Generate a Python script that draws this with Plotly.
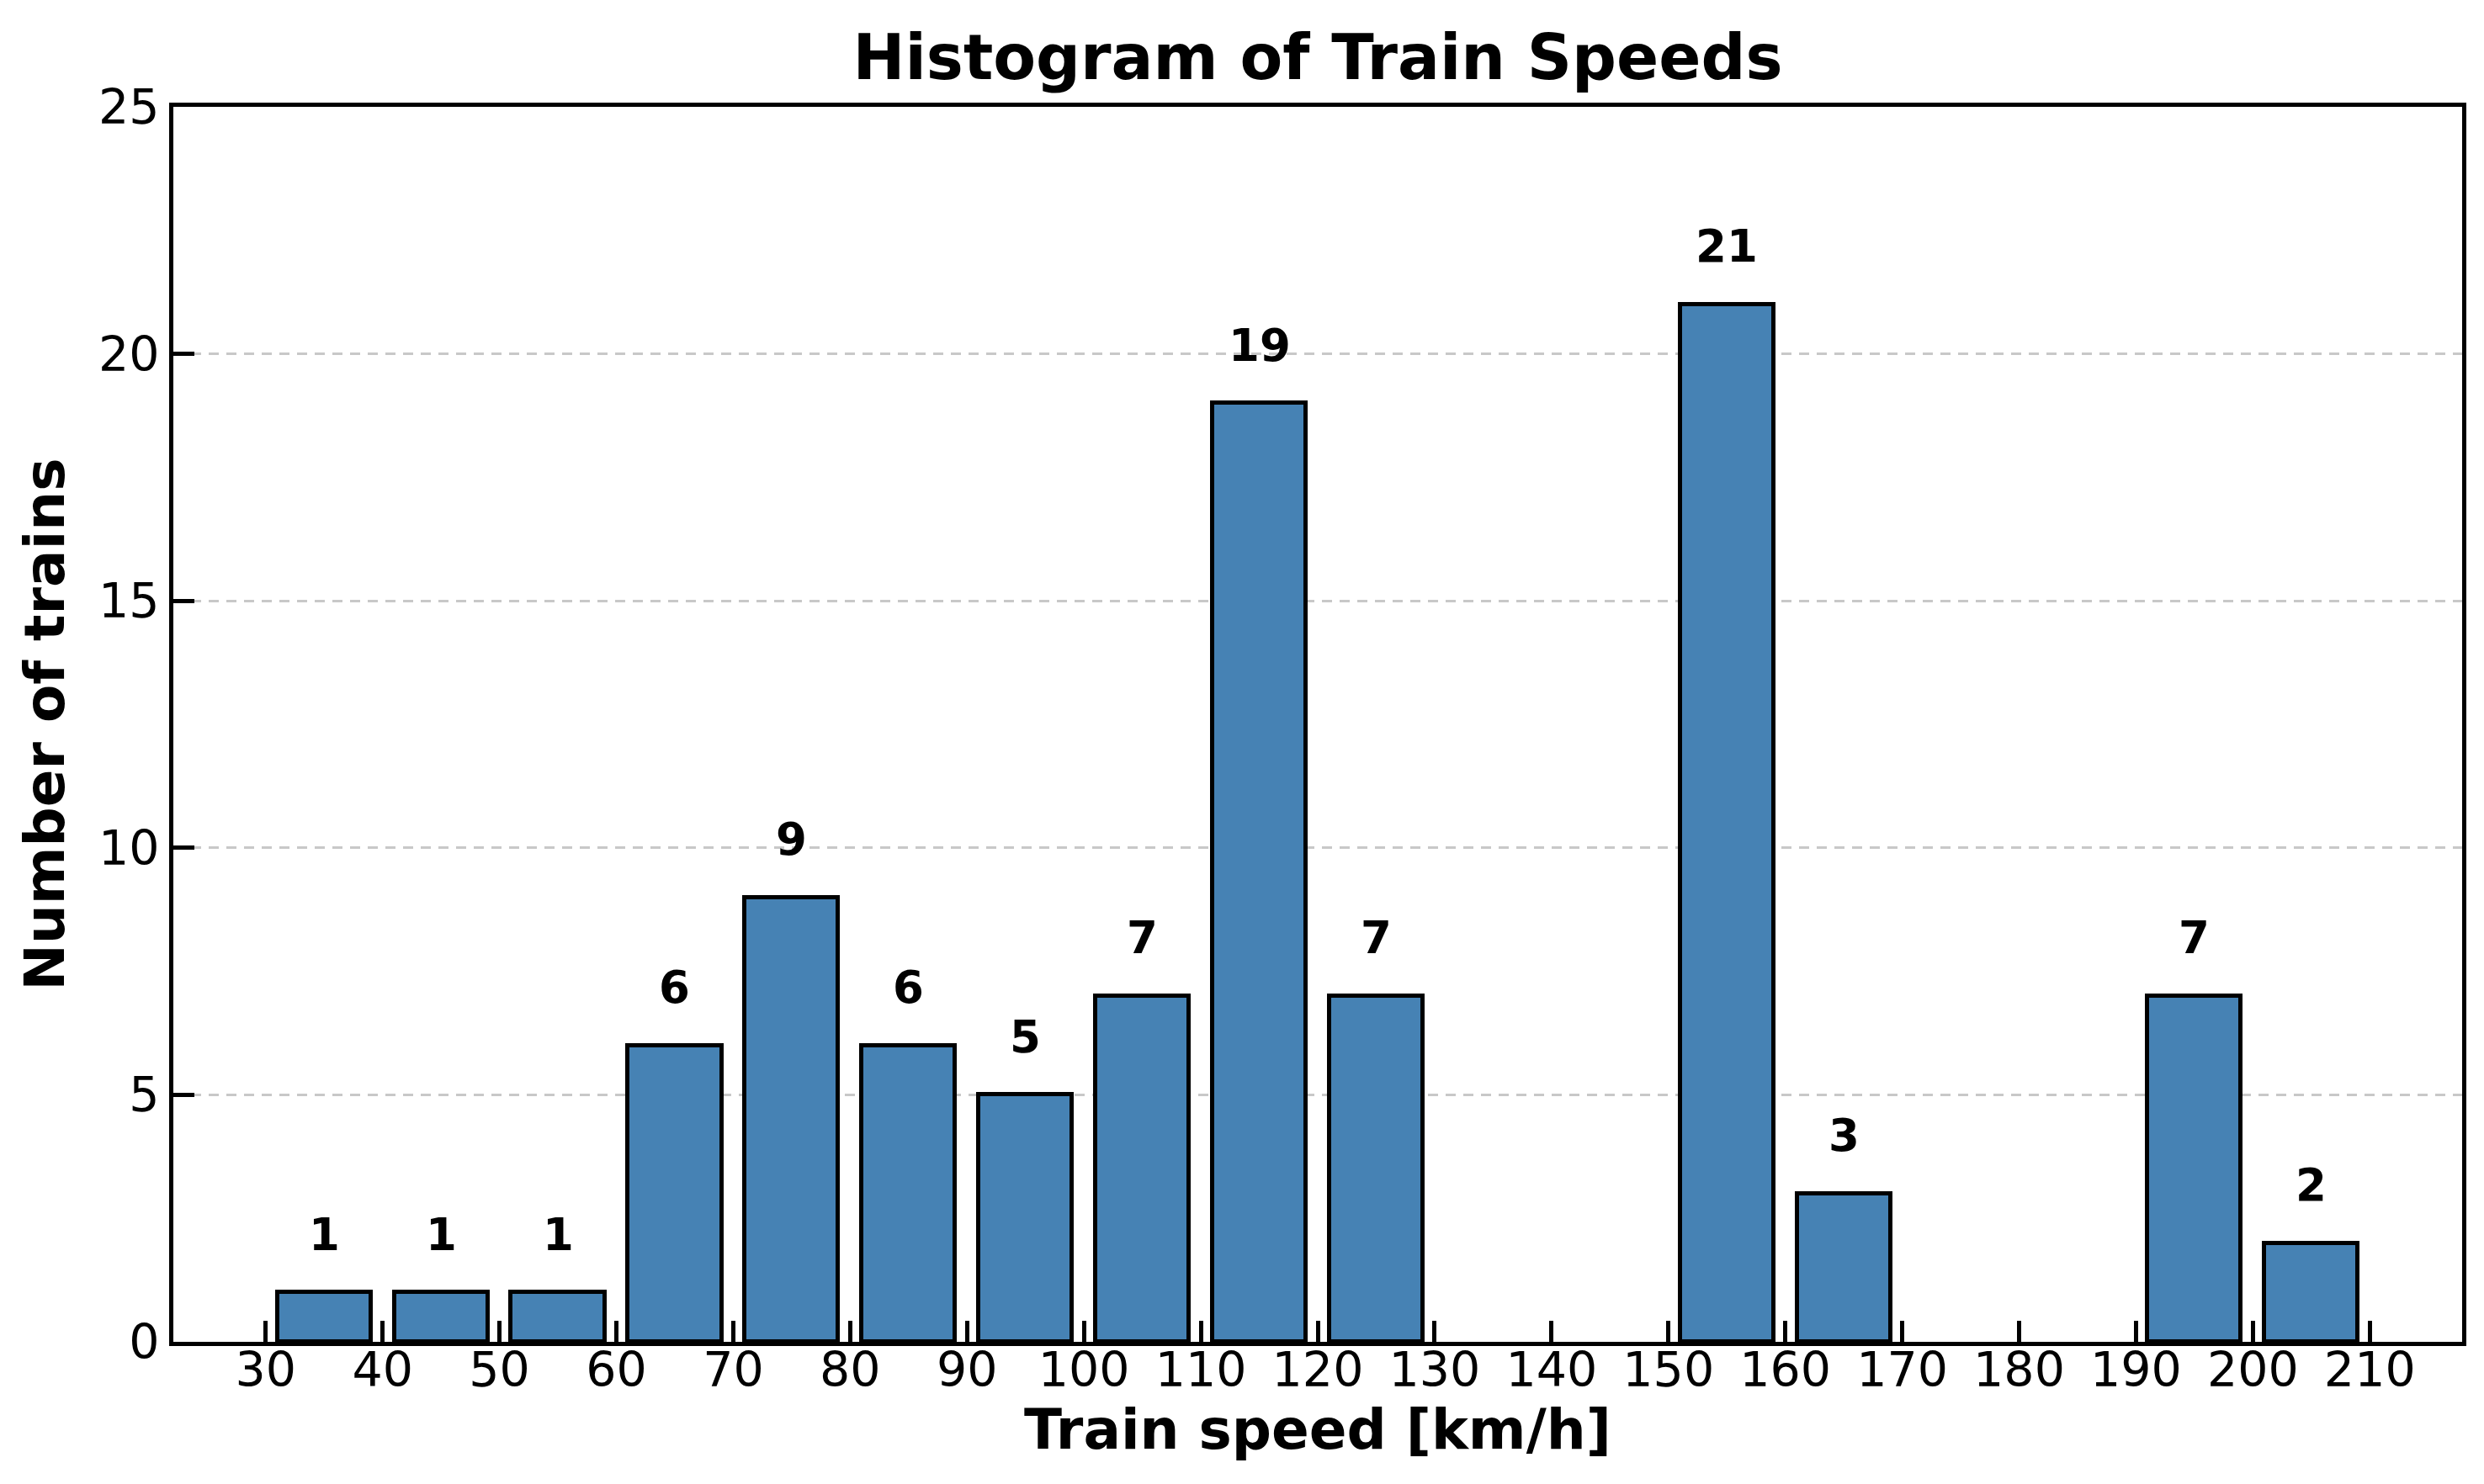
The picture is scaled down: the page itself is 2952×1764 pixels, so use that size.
import plotly.graph_objects as go

bin_edges = [30, 40, 50, 60, 70, 80, 90, 100, 110, 120, 130, 140, 150, 160, 170, 180, 190, 200, 210]
counts = [1, 1, 1, 6, 9, 6, 5, 7, 19, 7, 0, 0, 21, 3, 0, 0, 7, 2]
y_ticks = [0, 5, 10, 15, 20, 25]

centers = [(bin_edges[i] + bin_edges[i + 1]) / 2 for i in range(len(counts))]
bar_w = [(bin_edges[i + 1] - bin_edges[i]) * 0.8 for i in range(len(counts))]
plot_counts = [c if c > 0 else None for c in counts]

FONT = "DejaVu Sans"

fig = go.Figure()
fig.add_trace(go.Bar(
    x=centers, y=plot_counts, width=bar_w,
    marker=dict(color="#4682B4", line=dict(color="black", width=5)),
    showlegend=False,
))

for c, v in zip(centers, counts):
    if v > 0:
        fig.add_annotation(x=c, y=v, text=f"<b>{v}</b>", showarrow=False,
                           yanchor="middle", yshift=69,
                           font=dict(family=FONT, size=53, color="black"))

fig.update_layout(
    width=2952, height=1764,
    paper_bgcolor="white", plot_bgcolor="white",
    margin=dict(l=198, r=34, t=119, b=177),
    title=dict(text="<b>Histogram of Train Speeds</b>", x=0.5, xref="paper", xanchor="center",
               yref="container", y=1 - 60 / 1764, yanchor="middle",
               font=dict(family=FONT, size=74, color="black")),
    font=dict(family=FONT, color="black"),
    bargap=0,
)

fig.update_xaxes(
    range=[22.1, 217.9], tickvals=bin_edges, ticktext=[str(e) for e in bin_edges],
    ticks="inside", ticklen=25, tickwidth=5, tickcolor="black",
    showline=True, linecolor="black", linewidth=5, mirror=True,
    showgrid=False, zeroline=False, ticklabelstandoff=-20,
    tickfont=dict(family=FONT, size=57, color="black"),
    title=dict(text="<b>Train speed [km/h]</b>", font=dict(family=FONT, size=66, color="black"), standoff=14),
)
fig.update_yaxes(
    range=[0, 25], tickvals=y_ticks,
    ticks="inside", ticklen=25, tickwidth=5, tickcolor="black",
    showline=True, linecolor="black", linewidth=5, mirror=True,
    showgrid=True, gridcolor="#c8c8c8", gridwidth=3, griddash="12px,9px",
    zeroline=False,
    tickfont=dict(family=FONT, size=57, color="black"),
    title=dict(text="<b>Number of trains</b>", font=dict(family=FONT, size=66, color="black"), standoff=20),
)

fig.write_html("out.html")
